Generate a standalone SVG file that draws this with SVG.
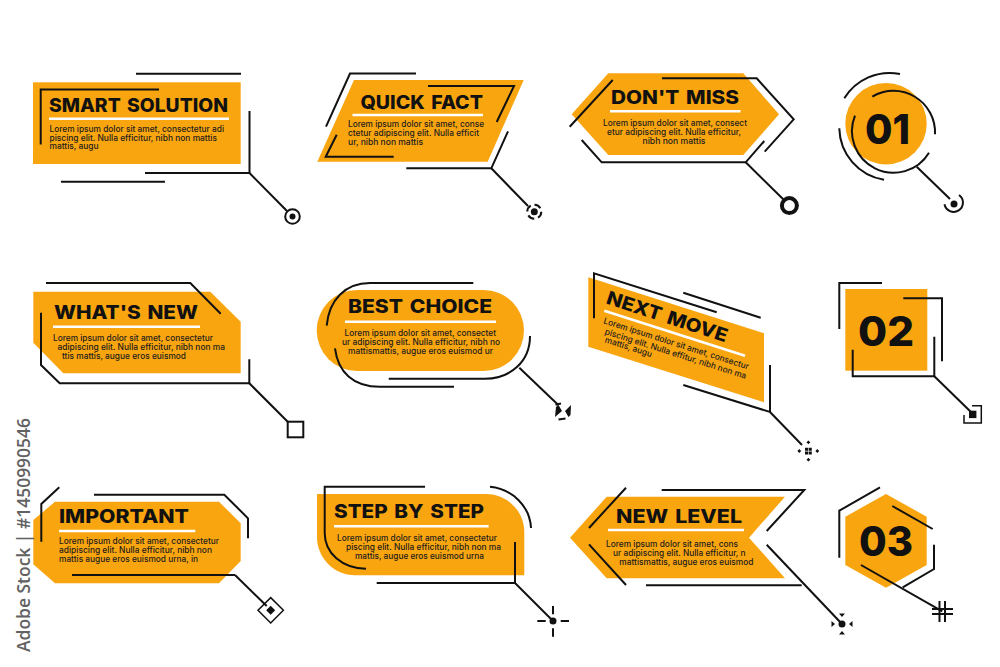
<svg xmlns="http://www.w3.org/2000/svg" width="1000" height="667" viewBox="0 0 1000 667">
<style>
.s{fill:#F9A510}
.l{fill:none;stroke:#111;stroke-width:2}
.u{stroke:#fff;stroke-width:2.6;fill:none}
.t{font-family:Inter,"Liberation Sans",sans-serif;font-weight:800;font-size:18.6px;word-spacing:2px;fill:#111}
.b{font-family:Inter,"Liberation Sans",sans-serif;font-weight:500;font-size:8.5px;fill:#1c1c1c}
.n{font-family:Inter,"Liberation Sans",sans-serif;font-weight:800;font-size:41px;fill:#111}
.k{fill:#111}
.w{font-family:"Open Sans","Liberation Sans",sans-serif;font-weight:600;font-size:18.5px;fill:#626262}
</style>
<rect width="1000" height="667" fill="#fff"/>
<g id="smart-solution">
<rect class="s" x="33" y="82.3" width="207.7" height="81.7"/>
<path class="l" d="M40.7 144.5V89.5H159M136 73.7H241M249.5 111V173H145M61 181.7H165"/>
<text class="t" x="49" y="111.7" textLength="179" lengthAdjust="spacingAndGlyphs">SMART SOLUTION</text>
<path class="u" d="M49 118.7H229"/>
<text class="b" x="49.5" y="131.7" textLength="174.5" lengthAdjust="spacingAndGlyphs">Lorem ipsum dolor sit amet, consectetur adi</text>
<text class="b" x="49.5" y="140.5" textLength="167.5" lengthAdjust="spacingAndGlyphs">piscing elit. Nulla efficitur, nibh non mattis</text>
<text class="b" x="49.5" y="149.4" textLength="49" lengthAdjust="spacingAndGlyphs">mattis, augu</text>
<circle class="l" cx="292.5" cy="216.5" r="7.3"/><circle class="k" cx="292.5" cy="216.5" r="3"/>
</g>
<g id="quick-fact">
<path class="s" d="M354 80H523.7L487.7 161.7H317.3Z"/>
<path class="l" d="M326 126.7L350 73.5H416M428 86H514L496.7 122M336.7 134.7L325.7 156.7H393.7M508 131.3L491.3 168.3H406.3"/>
<text class="t" x="360.5" y="109" textLength="122.5" lengthAdjust="spacingAndGlyphs">QUICK FACT</text>
<path class="u" d="M352.5 115H483"/>
<text class="b" x="348" y="127.3" textLength="136" lengthAdjust="spacingAndGlyphs">Lorem ipsum dolor sit amet, conse</text>
<text class="b" x="348" y="136.4" textLength="131" lengthAdjust="spacingAndGlyphs">ctetur adipiscing elit. Nulla efficit</text>
<text class="b" x="348" y="145.3" textLength="75" lengthAdjust="spacingAndGlyphs">ur, nibh non mattis</text>
<circle class="l" cx="534.3" cy="211.7" r="7" stroke-dasharray="7 4"/><circle class="k" cx="534.3" cy="211.7" r="3.5"/>
</g>
<g id="dont-miss">
<path class="s" d="M608.3 73.3H743.3L779 114.3L743.3 155H608.3L571.7 114.3Z"/>
<path class="l" d="M612.7 80L569.7 126.7M662 78.3H756.7L793.7 119.3L764.7 151.7M581.7 140L601.7 162.3H745.7L764.3 141"/>
<text class="t" x="611" y="104" textLength="128" lengthAdjust="spacingAndGlyphs">DON'T MISS</text>
<path class="u" d="M610 111.3H740.5"/>
<text class="b" x="603" y="126" textLength="144" lengthAdjust="spacingAndGlyphs">Lorem ipsum dolor sit amet, consect</text>
<text class="b" x="607" y="135" textLength="134" lengthAdjust="spacingAndGlyphs">etur adipiscing elit. Nulla efficitur,</text>
<text class="b" x="642.5" y="144" textLength="63" lengthAdjust="spacingAndGlyphs">nibh non mattis</text>
<circle cx="789.4" cy="205.6" r="7.5" fill="none" stroke="#111" stroke-width="4"/>
</g>
<g id="num-01">
<circle class="s" cx="886" cy="123.7" r="40.7"/>
<path class="l" d="M844.3 98.3A53 53 0 0 1 900 74M839.3 128.3A53 53 0 0 0 884 179.7M872.3 96.7A41.5 41.5 0 0 1 935 134.3M855 115.7A41.5 41.5 0 0 0 929 152.7"/>
<text class="n" x="865" y="144" textLength="45" lengthAdjust="spacingAndGlyphs">01</text>
<circle class="k" cx="954" cy="204" r="3.5"/><path class="l" d="M959 195A9.3 9.3 0 1 1 944.5 204.3"/>
</g>
<g id="whats-new">
<path class="s" d="M33.3 291.7H210.3L240.7 321.7V373.3H63.3L33.3 342.7Z"/>
<path class="l" d="M46 283H190.3L220.7 313.7M41 312.7V365L59.7 383.3H249.3V359.3"/>
<text class="t" x="54" y="319" textLength="144" lengthAdjust="spacingAndGlyphs">WHAT'S NEW</text>
<path class="u" d="M53 326.7H200"/>
<text class="b" x="53" y="341" textLength="160" lengthAdjust="spacingAndGlyphs">Lorem ipsum dolor sit amet, consectetur</text>
<text class="b" x="57.5" y="350" textLength="167.5" lengthAdjust="spacingAndGlyphs">adipiscing elit. Nulla efficitur, nibh non ma</text>
<text class="b" x="62" y="358.8" textLength="124" lengthAdjust="spacingAndGlyphs">ttis mattis, augue eros euismod</text>
<rect class="l" x="287.7" y="421.7" width="15.6" height="15.6"/>
</g>
<g id="best-choice">
<rect class="s" x="316.7" y="290" width="207.3" height="81" rx="40.5"/>
<path class="l" d="M326.7 325.7C329 300 345 283 370 283H473.3M335 348.3C338 372 353 386.7 380 386.7H454M530 336C530 362 510 378.7 485 378.7H388.7"/>
<text class="t" x="348" y="313.3" textLength="144" lengthAdjust="spacingAndGlyphs">BEST CHOICE</text>
<path class="u" d="M345 321.7H496"/>
<text class="b" x="344.5" y="336.3" textLength="151.5" lengthAdjust="spacingAndGlyphs">Lorem ipsum dolor sit amet, consectet</text>
<text class="b" x="342" y="345.3" textLength="158" lengthAdjust="spacingAndGlyphs">ur adipiscing elit. Nulla efficitur, nibh no</text>
<text class="b" x="348" y="354.3" textLength="145" lengthAdjust="spacingAndGlyphs">mattismattis, augue eros euismod ur</text>
<path class="k" d="M555 417L562 411L558.5 405L556 407ZM571 405L565 411L568.5 417L570.5 415Z"/><path class="l" d="M555.5 404.8L561 403.5M565.5 418.5L558.5 419.5"/>
</g>
<g id="next-move">
<path class="s" d="M588.3 277.3L764 333.3V402.3L588.3 346.7Z"/>
<path class="l" d="M594 318.3V273.3L716.7 312.3M683.3 292.7L760.7 317.7M683.3 385L770 412V365"/>
<g transform="translate(605.3 303.3) rotate(18)"><text class="t" textLength="126" lengthAdjust="spacingAndGlyphs">NEXT MOVE</text></g>
<path class="u" d="M604.3 310.7L745 355.7"/>
<g transform="translate(603 323.3) rotate(17.7)"><text class="b" textLength="152" lengthAdjust="spacingAndGlyphs">Lorem ipsum dolor sit amet, consectur</text></g>
<g transform="translate(604.3 334) rotate(17.7)"><text class="b" textLength="148" lengthAdjust="spacingAndGlyphs">piscing elit. Nulla effitur, nibh non ma</text></g>
<g transform="translate(604.3 342.3) rotate(17.7)"><text class="b" textLength="49" lengthAdjust="spacingAndGlyphs">mattis, augu</text></g>
<path class="k" d="M805 447.7h3.1v3.1h-3.1zM808.7 447.7h3.1v3.1h-3.1zM805 451.4h3.1v3.1h-3.1zM808.7 451.4h3.1v3.1h-3.1zM808.4 440.4l1.9 1.9-1.9 1.9-1.9-1.9zM808.4 457.8l1.9 1.9-1.9 1.9-1.9-1.9zM799.3 449.1l1.9 1.9-1.9 1.9-1.9-1.9zM817.3 449.1l1.9 1.9-1.9 1.9-1.9-1.9z"/>
</g>
<g id="num-02">
<rect class="s" x="845.3" y="289" width="82" height="81.7"/>
<path class="l" d="M839.3 329V283H882M903.3 298.3H942V361.3M852.7 349.7V376.3H934.3V336.7"/>
<text class="n" x="858" y="346" textLength="56" lengthAdjust="spacingAndGlyphs">02</text>
<rect class="k" x="969" y="410.7" width="7.4" height="7.4"/><path class="l" style="stroke-width:1.5" d="M972 405.7H981.3V423H964V415"/>
</g>
<g id="important">
<path class="s" d="M55 501.7H219L240.7 523.3V561L219 583.3H55L33.3 564.3V520Z"/>
<path class="l" d="M59.3 487.3L41.3 504V541.7M94 494.7H224.3L248 518.3V538.3M72 575H235"/>
<text class="t" x="59" y="523.3" textLength="130" lengthAdjust="spacingAndGlyphs">IMPORTANT</text>
<path class="u" d="M59 531H195.3"/>
<text class="b" x="59" y="544" textLength="160" lengthAdjust="spacingAndGlyphs">Lorem ipsum dolor sit amet, consectetur</text>
<text class="b" x="59" y="553" textLength="153" lengthAdjust="spacingAndGlyphs">adipiscing elit. Nulla efficitur, nibh non</text>
<text class="b" x="59" y="562" textLength="139" lengthAdjust="spacingAndGlyphs">mattis augue eros euismod urna, in</text>
<path class="k" d="M270.7 605.8L275.2 610.3L270.7 614.8L266.2 610.3Z"/><path class="l" style="stroke-width:1.5" d="M270.7 597.6L283.4 610.3L270.7 623L258 610.3Z"/>
</g>
<g id="step-by-step">
<path class="s" d="M317 494H486C507 494 524.3 511 524.3 532V575.3H355C334 575.3 317 558 317 537Z"/>
<path class="l" d="M425 486.7H324.7V533C324.7 553 342 568.7 366 568.7M490 486.7C512 489 530 506 531 528M376.7 583H515V542"/>
<text class="t" x="334" y="518.3" textLength="150" lengthAdjust="spacingAndGlyphs">STEP BY STEP</text>
<path class="u" d="M334 526.3H488.7"/>
<text class="b" x="337" y="540.7" textLength="160" lengthAdjust="spacingAndGlyphs">Lorem ipsum dolor sit amet, consectetur</text>
<text class="b" x="346" y="549.7" textLength="155" lengthAdjust="spacingAndGlyphs">piscing elit. Nulla efficitur, nibh non ma</text>
<text class="b" x="355" y="558.5" textLength="129" lengthAdjust="spacingAndGlyphs">mattis, augue eros euismod urna</text>
<circle class="k" cx="553" cy="621" r="3.5"/><path class="l" d="M537.3 621H545.7M560.7 621H569M553 606V614.3M553 628.3V636.7"/>
</g>
<g id="new-level">
<path class="s" d="M606.7 496.7H785L749 537.7L785 578.3H606.7L570 537.7Z"/>
<path class="l" d="M626 487.7L589 528M589 544.3L626 585M661.7 490H804.3L766.7 531M646 585.3H801.7"/>
<text class="t" x="616" y="523.3" textLength="126" lengthAdjust="spacingAndGlyphs">NEW LEVEL</text>
<path class="u" d="M608 530H744"/>
<text class="b" x="606" y="547" textLength="132" lengthAdjust="spacingAndGlyphs">Lorem ipsum dolor sit amet, cons</text>
<text class="b" x="613" y="556" textLength="132.5" lengthAdjust="spacingAndGlyphs">ur adipiscing elit. Nulla efficitur, n</text>
<text class="b" x="619.3" y="565" textLength="134.2" lengthAdjust="spacingAndGlyphs">mattismattis, augue eros euismod</text>
<circle class="k" cx="842" cy="624" r="3.5"/><path class="k" d="M839 613.5H845L842 617ZM839 634.5H845L842 631ZM831.5 621V627L835 624ZM852.5 621V627L849 624Z"/>
</g>
<g id="num-03">
<path class="s" d="M886 494L926.7 516.7V565L886 587.7L845.3 565V516.7Z"/>
<path class="l" d="M880 487.3L839.3 510.7V557.7M892.3 506L932.7 529M934 544.7V569L902.7 587.3"/>
<text class="n" x="859" y="556" textLength="54" lengthAdjust="spacingAndGlyphs">03</text>
<path class="l" d="M939.5 601V622M945 601V622M932 609H953M932 614H953"/>
</g>
<g id="connectors" class="l">
<path d="M249.5 173L287 211"/>
<path d="M491.3 168.3L528 206"/>
<path d="M745.7 162.3L784 200"/>
<path d="M916.7 166.7L950 199"/>
<path d="M249.3 383.3L288 422"/>
<path d="M519.3 367.7L558.3 405"/>
<path d="M770 412L802 445"/>
<path d="M934.3 376.3L972 413"/>
<path d="M235 575L266.7 606"/>
<path d="M515 583L553 621"/>
<path d="M766.7 544.7L842 624"/>
<path d="M861 565L942.3 611.3"/>
</g>
<text class="w" transform="translate(29.5 652) rotate(-90)" textLength="234" lengthAdjust="spacingAndGlyphs">Adobe Stock | #1450990546</text>
</svg>
